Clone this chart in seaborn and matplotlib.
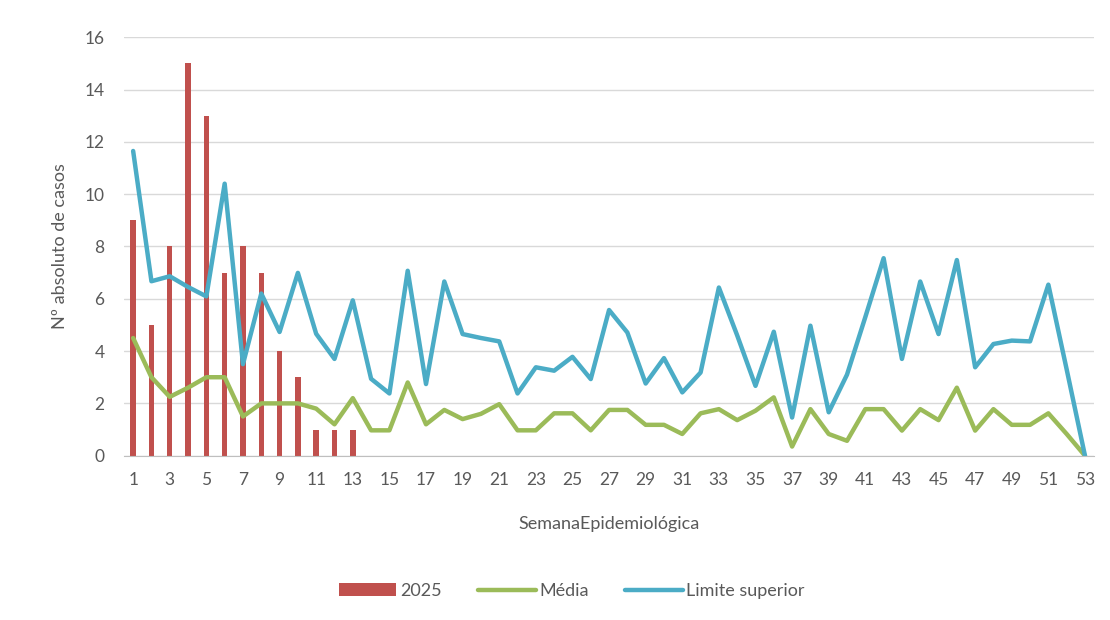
import matplotlib
matplotlib.use("Agg")
import matplotlib.pyplot as plt
import seaborn as sns
import pandas as pd
from matplotlib.patches import Patch
from matplotlib.lines import Line2D

weeks = list(range(1, 54))
cases_2025 = [9, 5, 8, 15, 13, 7, 8, 7, 4, 3, 1, 1, 1]
media = [4.5, 3.0, 2.25, 2.6, 3.0, 3.0, 1.5, 2.0, 2.0, 2.0, 1.8, 1.2, 2.2, 0.97, 0.97,
         2.8, 1.2, 1.75, 1.4, 1.6, 1.97, 0.97, 0.97, 1.62, 1.62, 0.97, 1.75, 1.75, 1.18, 1.18,
         0.83, 1.62, 1.78, 1.36, 1.72, 2.23, 0.35, 1.78, 0.83, 0.57, 1.78, 1.78, 0.96, 1.78,
         1.36, 2.6, 0.96, 1.78, 1.18, 1.18, 1.62, 0.83, 0.0]
limite = [11.65, 6.67, 6.86, 6.45, 6.09, 10.4, 3.5, 6.2, 4.73, 6.99, 4.66, 3.7, 5.94, 2.94, 2.38,
          7.07, 2.74, 6.66, 4.65, 4.5, 4.37, 2.38, 3.38, 3.25, 3.78, 2.93, 5.57, 4.71, 2.76, 3.73,
          2.42, 3.18, 6.43, 4.6, 2.67, 4.74, 1.46, 4.97, 1.66, 3.1, 5.3, 7.55, 3.7, 6.66,
          4.65, 7.48, 3.38, 4.27, 4.4, 4.37, 6.54, 3.3, 0.0]
xtick_labels = [str(w) for w in range(1, 54, 2)]

RED = "#C0504D"
GREEN = "#9BBB59"
BLUE = "#4BACC6"
GRAY = "#595959"

sns.set_style("white")
plt.rcParams["font.family"] = ["Lato", "DejaVu Sans"]

fig = plt.figure(figsize=(11.1, 6.2), dpi=100)
ax = fig.add_axes([0.1117, 0.265, 0.874, 0.675])

bar_df = pd.DataFrame({"week": weeks[:len(cases_2025)], "cases": cases_2025})
sns.barplot(data=bar_df, x="week", y="cases", native_scale=True, width=0.3,
            color=RED, saturation=1, ax=ax, linewidth=0)
sns.lineplot(x=weeks, y=media, color=GREEN, linewidth=3.2, ax=ax)
sns.lineplot(x=weeks, y=limite, color=BLUE, linewidth=3.2, ax=ax)

ax.set_xlim(0.5, 53.5)
ax.set_ylim(0, 16)
ax.set_yticks(range(0, 17, 2))
ax.set_xticks(range(1, 54, 2))
ax.set_xticklabels(xtick_labels)
ax.yaxis.grid(True, color="#D9D9D9", linewidth=1)
ax.set_axisbelow(True)
for s in ["top", "right", "left"]:
    ax.spines[s].set_visible(False)
ax.spines["bottom"].set_color("#BFBFBF")
ax.tick_params(axis="both", colors=GRAY, labelsize=12.5, length=0)
ax.tick_params(axis="x", pad=12)
ax.tick_params(axis="y", pad=14)
ax.set_xlabel("SemanaEpidemiológica", color=GRAY, fontsize=13, labelpad=20)
ax.set_ylabel("Nº absoluto de casos", color=GRAY, fontsize=13, labelpad=12)

handles = [Patch(facecolor=RED, edgecolor="none"),
           Line2D([0], [0], color=GREEN, linewidth=3.2),
           Line2D([0], [0], color=BLUE, linewidth=3.2)]
fig.legend(handles, ["2025", "Média", "Limite superior"], loc="center",
           bbox_to_anchor=(0.515, 0.047), ncol=3, frameon=False, fontsize=13,
           handlelength=3.2, handletextpad=0.2, columnspacing=2.0, labelcolor=GRAY)

fig.savefig("out.png", dpi=100)
